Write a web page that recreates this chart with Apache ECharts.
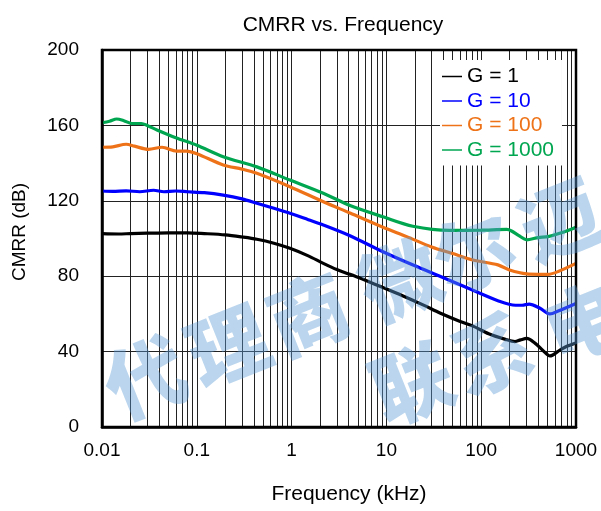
<!DOCTYPE html>
<html>
<head>
<meta charset="utf-8">
<script src="https://cdn.jsdelivr.net/npm/echarts@6/dist/echarts.min.js"></script>
<style>html,body{margin:0;padding:0;background:#fff}#c{width:601px;height:511px}</style>
</head>
<body>
<div id="c"></div>
<script>
var seriesNames = ['G = 1', 'G = 10', 'G = 100', 'G = 1000'];
var seriesColors = ['#000000', '#0000FF', '#EE7318', '#00A650'];
var xTicks = [0.01, 0.1, 1, 10, 100, 1000];
var yTicks = [0, 40, 80, 120, 160, 200];

var g1 = [[0.01,102.6],[0.015,102.4],[0.02,102.6],[0.03,102.8],[0.05,103],[0.08,103],[0.12,102.6],[0.2,101.9],[0.3,100.8],[0.43,99.6],[0.65,97.5],[0.96,94.8],[1.5,90.8],[2.16,86.8],[3,83.5],[4.13,81],[6,77.8],[9.2,74],[15,69.5],[25,64.5],[36.7,60.5],[60,56],[82,53.5],[120,49.5],[180,46.5],[227,45.3],[260,46.2],[302,47],[369,44.5],[450,40.5],[532,37.7],[676,40.8],[800,42.8],[1000,44.6]];
var g10 = [[0.01,125.2],[0.013,125],[0.018,125.3],[0.025,124.8],[0.035,125.6],[0.045,124.8],[0.06,125.2],[0.08,124.8],[0.12,124.3],[0.19,123],[0.3,121],[0.43,118.7],[0.65,116],[0.96,113.4],[1.5,110],[2.16,107.2],[4.13,101.5],[9.2,93],[20,85.5],[36.7,80],[82,72.5],[150,67],[230,64.6],[270,64.6],[320,65.2],[417,63],[530,60],[650,61.5],[1000,65.5]];
var g100 = [[0.01,148.4],[0.013,148.6],[0.018,150],[0.022,149],[0.031,147.3],[0.043,148.4],[0.061,146.4],[0.078,146.4],[0.1,145],[0.19,139],[0.3,136.8],[0.43,134.6],[0.96,127.5],[2.16,119.5],[4.13,113.5],[9.2,106],[16.4,101],[30,95.5],[50,92],[82,88.6],[150,86],[199,83.3],[302,81.2],[400,81],[507,81],[650,82.5],[1000,86.8]];
var g1000 = [[0.01,161.4],[0.012,162.2],[0.0143,163.4],[0.017,162.5],[0.0206,161],[0.026,161],[0.03,160],[0.038,157.6],[0.06,153.5],[0.1,149.5],[0.19,143.4],[0.43,138],[0.96,131],[2.16,124],[4.13,117.5],[9.2,111.5],[19,106.5],[46.6,104.3],[100,104.4],[186,104.8],[209,104],[250,101.5],[302,99.3],[400,100.5],[507,101],[700,103],[1000,106]];
var seriesData = [g1, g10, g100, g1000];

// minor log grid positions (2..9 within each decade)
var minorX = [];
for (var d = 0; d < xTicks.length - 1; d++) {
  for (var m = 2; m <= 9; m++) minorX.push(+(xTicks[d] * m).toPrecision(3));
}

var FONT = '"Liberation Sans", Arial, sans-serif';
var chart = echarts.init(document.getElementById('c'), null, {renderer: 'canvas'});

var series = seriesNames.map(function (n, i) {
  return {
    name: n, type: 'line', data: seriesData[i], showSymbol: false, symbol: 'none',
    smooth: 0.3, z: 5,
    lineStyle: {color: seriesColors[i], width: 3.2},
    itemStyle: {color: seriesColors[i]}
  };
});
series.push({
  type: 'line', data: [], silent: true, z: 1,
  markLine: {
    silent: true, symbol: ['none', 'none'], label: {show: false},
    lineStyle: {color: '#222', width: 1, type: 'solid'},
    emphasis: {disabled: true},
    animation: false,
    data: minorX.map(function (v) { return {xAxis: v}; })
  }
});

var wmColor = 'rgba(90,155,212,0.42)';
var wmChars = [
  ['代', 145, 378], ['理', 228, 346], ['商', 308, 314],
  ['微', 400, 280], ['尔', 474, 252], ['迈', 560, 220],
  ['联', 412, 383], ['系', 492, 354], ['电', 584, 322]
];
var graphics = wmChars.map(function (c) {
  return {
    type: 'text', x: c[1], y: c[2], rotation: 0.38, z: 100, silent: true,
    style: {text: c[0], fill: wmColor, font: '900 80px "Noto Sans CJK SC"', textAlign: 'center', textVerticalAlign: 'middle'}
  };
});
graphics.push({
  type: 'text', x: 349, y: 494, z: 10,
  style: {text: 'Frequency (kHz)', fill: '#000', font: '21px ' + FONT, textAlign: 'center', textVerticalAlign: 'middle'}
});
graphics.push({
  type: 'text', x: 20, y: 232, rotation: Math.PI / 2, z: 10,
  style: {text: 'CMRR (dB)', fill: '#000', font: '19px ' + FONT, textAlign: 'center', textVerticalAlign: 'middle'}
});

chart.setOption({
  animation: false,
  backgroundColor: '#fff',
  title: {
    text: 'CMRR vs. Frequency', left: 338, top: 10, textAlign: 'center',
    textStyle: {fontFamily: FONT, fontSize: 21, fontWeight: 'normal', color: '#000'}
  },
  grid: {left: 102, right: 25, top: 50, bottom: 84, show: true, borderColor: '#000', borderWidth: 2.5, backgroundColor: 'transparent', z: 20},
  legend: {
    data: seriesNames.map(function (n, i) { return {name: n, textStyle: {color: seriesColors[i]}}; }),
    orient: 'vertical', left: 440, top: 60,
    padding: [6, 8, 5, 2], backgroundColor: '#fff', itemGap: 3.5,
    icon: 'rect', itemWidth: 20, itemHeight: 1.5,
    selectedMode: false, z: 30,
    textStyle: {fontFamily: FONT, fontSize: 21, lineHeight: 21}
  },
  xAxis: {
    type: 'log', logBase: 10, min: 0.01, max: 1000,
    axisLine: {show: true, lineStyle: {color: '#000', width: 2.5}},
    axisTick: {show: false},
    axisLabel: {fontFamily: FONT, fontSize: 19, color: '#000', margin: 14,
      formatter: function (v) { var s = xTicks.filter(function (t) { return Math.abs(t - v) / t < 1e-6; }); return s.length ? String(s[0]) : ''; }},
    splitLine: {show: true, lineStyle: {color: '#222', width: 1}},
    minorTick: {show: false}
  },
  yAxis: {
    type: 'value', min: 0, max: 200, interval: 40,
    axisLine: {show: true, lineStyle: {color: '#000', width: 2.5}},
    axisTick: {show: false},
    axisLabel: {fontFamily: FONT, fontSize: 19, color: '#000', margin: 23},
    splitLine: {show: true, lineStyle: {color: '#222', width: 1}}
  },
  graphic: graphics,
  series: series
});
</script>
</body>
</html>
